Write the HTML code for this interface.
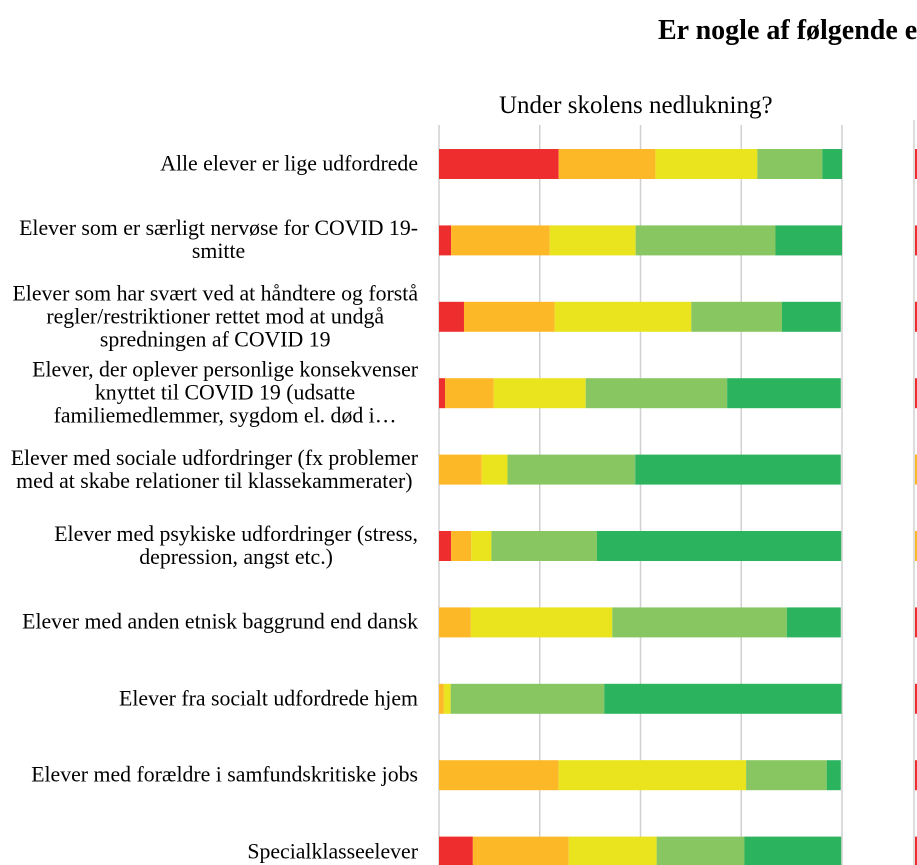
<!DOCTYPE html>
<html><head><meta charset="utf-8"><style>
body{margin:0;background:#fff;}
#wrap{position:relative;width:917px;height:865px;overflow:hidden;font-family:"Liberation Serif","Times New Roman",serif;color:#000;}
.lbl{position:absolute;right:499px;text-align:center;font-size:21.8px;line-height:23px;transform:translateY(-50%);white-space:nowrap;}
#title{position:absolute;left:658px;top:14px;font-size:28px;line-height:34px;font-weight:bold;white-space:nowrap;}
#sub{position:absolute;left:499px;top:91px;font-size:25px;line-height:30px;white-space:nowrap;}
svg{position:absolute;left:0;top:0;}
</style></head><body>
<div id="wrap">
<div id="title">Er nogle af følgende elevgrupper særligt udfordrede?</div>
<div id="sub">Under skolens nedlukning?</div>
<svg id="plot" width="917" height="865"></svg>
<div id="labels"></div>
</div>
<script>
const categories=["Alle elever er lige udfordrede","Elever som er særligt nervøse for COVID 19-\nsmitte","Elever som har svært ved at håndtere og forstå\nregler/restriktioner rettet mod at undgå\nspredningen af COVID 19","Elever, der oplever personlige konsekvenser\nknyttet til COVID 19 (udsatte\nfamiliemedlemmer, sygdom el. død i…","Elever med sociale udfordringer (fx problemer\nmed at skabe relationer til klassekammerater)","Elever med psykiske udfordringer (stress,\ndepression, angst etc.)","Elever med anden etnisk baggrund end dansk","Elever fra socialt udfordrede hjem","Elever med forældre i samfundskritiske jobs","Specialklasseelever"];
const s1=[29.7,3,6.2,1.5,0,3,0,0,0,8.4];
const s2=[24,24.5,22.5,12.1,10.6,5,7.9,1.2,29.7,23.8];
const s3=[25.3,21.3,33.9,22.8,6.4,5,35.1,1.7,46.5,21.8];
const s4=[16.1,34.7,22.5,35.1,31.7,26.2,43.3,38.1,20,21.8];
const s5=[4.9,16.5,14.6,28.2,51,60.6,13.4,58.9,3.5,24];
const ticks=[0,25,50,75,100];
const rightPanelFirst=["#EE2E2E","#EE2E2E","#EE2E2E","#EE2E2E","#FDB827","#FDB827","#EE2E2E","#EE2E2E","#EE2E2E","#EE2E2E"];
const colors=["#EE2E2E","#FDB827","#E9E41E","#88C662","#2BB35E"];
const series=[s1,s2,s3,s4,s5];
const X0=439,X1=842;
const xs=v=>X0+(X1-X0)*v/100;
const yc=i=>164+i*76.4;
const BH=30;
const NS="http://www.w3.org/2000/svg";
const svg=document.getElementById('plot');
ticks.forEach(t=>{
  const l=document.createElementNS(NS,'line');
  l.setAttribute('x1',xs(t));l.setAttribute('x2',xs(t));l.setAttribute('y1',125);l.setAttribute('y2',865);
  l.setAttribute('stroke','#d0d0d0');l.setAttribute('stroke-width','1.5');
  
  
  svg.appendChild(l);
});
const g2=document.createElementNS(NS,'line');
g2.setAttribute('x1',914);g2.setAttribute('x2',914);g2.setAttribute('y1',120);g2.setAttribute('y2',865);
g2.setAttribute('stroke','#d0d0d0');g2.setAttribute('stroke-width','1.5');


svg.appendChild(g2);
const lab=document.getElementById('labels');
categories.forEach((c,i)=>{
  let acc=0;
  series.forEach((s,k)=>{
    const v=s[i];
    if(v>0){
      const r=document.createElementNS(NS,'rect');
      r.setAttribute('x',xs(acc));r.setAttribute('width',xs(acc+v)-xs(acc));
      r.setAttribute('y',yc(i)-BH/2);r.setAttribute('height',BH);
      r.setAttribute('fill',colors[k]);
      
      
      svg.appendChild(r);
    }
    acc+=v;
  });
  const r2=document.createElementNS(NS,'rect');
  r2.setAttribute('x',915);r2.setAttribute('width',3);r2.setAttribute('y',yc(i)-BH/2);r2.setAttribute('height',BH);
  r2.setAttribute('fill',rightPanelFirst[i]);
  
  
  svg.appendChild(r2);
  const d=document.createElement('div');
  d.className='lbl';
  d.style.top=yc(i)+'px';
  d.innerHTML=c.split('\n').join('<br>');
  
  
  lab.appendChild(d);
});
</script>
</body></html>
